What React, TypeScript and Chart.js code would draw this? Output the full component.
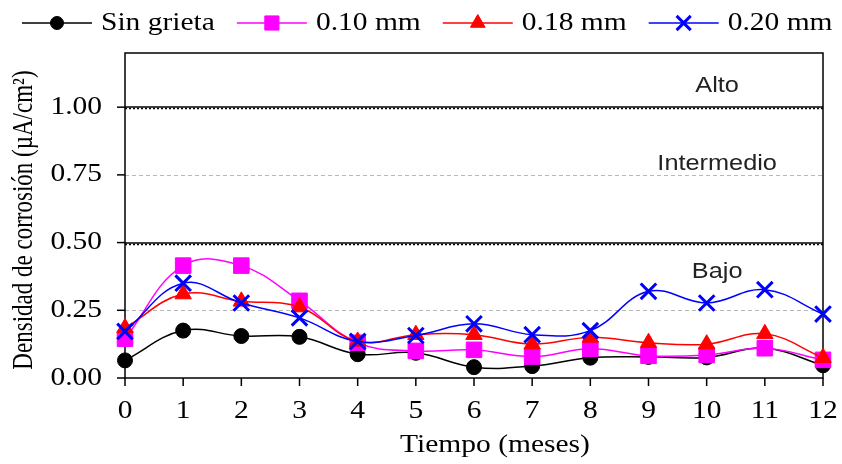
import { useEffect, useRef } from 'react';
import { Chart, registerables } from 'chart.js';
import { drawPoint } from 'chart.js/helpers';

Chart.register(...registerables);

// ---------- data ----------
const months = [0, 1, 2, 3, 4, 5, 6, 7, 8, 9, 10, 11, 12];
const sinGrieta = [0.065, 0.175, 0.155, 0.152, 0.088, 0.093, 0.040, 0.044, 0.075, 0.078, 0.076, 0.110, 0.047];
const grieta010 = [0.145, 0.415, 0.415, 0.285, 0.130, 0.100, 0.104, 0.079, 0.108, 0.082, 0.085, 0.110, 0.067];
const grieta018 = [0.185, 0.310, 0.283, 0.262, 0.135, 0.160, 0.160, 0.125, 0.150, 0.130, 0.125, 0.163, 0.075];
const grieta020 = [0.172, 0.350, 0.277, 0.222, 0.135, 0.157, 0.200, 0.160, 0.175, 0.320, 0.277, 0.326, 0.236];

const seriesNames = ['Sin grieta', '0.10 mm', '0.18 mm', '0.20 mm'];
const yTickValues = [0, 0.25, 0.5, 0.75, 1.0];
const yTickLabels = ['0.00', '0.25', '0.50', '0.75', '1.00'];
const xTickLabels = ['0', '1', '2', '3', '4', '5', '6', '7', '8', '9', '10', '11', '12'];
const zoneLabels = ['Alto', 'Intermedio', 'Bajo'];
const zoneValues = [1.08, 0.79, 0.39];
const xTitle = 'Tiempo (meses)';
const yTitle = 'Densidad de corrosión (µA/cm²)';

// ---------- styles ----------
const SERIF = '"Liberation Serif", "Times New Roman", serif';
const SANS = '"Liberation Sans", Arial, sans-serif';
const SX = 1.18;

const styles = [
  { color: '#000000', pointStyle: 'circle', radius: 7.5, pbw: 1 },
  { color: '#FF00FF', pointStyle: 'rect', radius: 11, pbw: 1 },
  { color: '#FF0000', pointStyle: 'triangle', radius: 9.5, pbw: 1 },
  { color: '#0000FF', pointStyle: 'crossRot', radius: 11, pbw: 3 },
];

function stretchedText(
  ctx: CanvasRenderingContext2D,
  text: string,
  x: number,
  y: number,
  align: 'left' | 'center' | 'right',
  font: string,
  sx: number,
  color: string
) {
  ctx.save();
  ctx.font = font;
  ctx.fillStyle = color;
  ctx.textBaseline = 'middle';
  ctx.textAlign = 'left';
  const w = ctx.measureText(text).width * sx;
  const left = align === 'center' ? x - w / 2 : align === 'right' ? x - w : x;
  ctx.translate(left, y);
  ctx.scale(sx, 1);
  ctx.fillText(text, 0, 0);
  ctx.restore();
  return w;
}

const decorPlugin = {
  id: 'decor',
  beforeDatasetsDraw(chart: any) {
    const ctx: CanvasRenderingContext2D = chart.ctx;
    const { left, right, top, bottom } = chart.chartArea;
    const ys = chart.scales.y;
    const xs = chart.scales.x;
    ctx.save();
    [0.25, 0.75].forEach((v) => {
      const y = Math.round(ys.getPixelForValue(v)) + 0.5;
      ctx.beginPath();
      ctx.setLineDash([4, 3]);
      ctx.strokeStyle = '#b8b8b8';
      ctx.lineWidth = 1;
      ctx.moveTo(left, y);
      ctx.lineTo(right, y);
      ctx.stroke();
    });
    [0.5, 1.0].forEach((v) => {
      const y = Math.round(ys.getPixelForValue(v));
      ctx.setLineDash([]);
      ctx.strokeStyle = '#000';
      ctx.lineWidth = 1.5;
      ctx.beginPath();
      ctx.moveTo(left, y);
      ctx.lineTo(right, y);
      ctx.stroke();
      ctx.setLineDash([2, 2]);
      ctx.lineWidth = 1.5;
      ctx.beginPath();
      ctx.moveTo(left, y + 1.5);
      ctx.lineTo(right, y + 1.5);
      ctx.stroke();
    });
    ctx.setLineDash([]);
    ctx.strokeStyle = '#000';
    ctx.lineWidth = 1.5;
    ctx.strokeRect(left, top, right - left, bottom - top);
    yTickValues.forEach((v) => {
      const y = ys.getPixelForValue(v);
      ctx.beginPath();
      ctx.moveTo(left - 8, y);
      ctx.lineTo(left, y);
      ctx.stroke();
    });
    months.forEach((m) => {
      const x = xs.getPixelForValue(m);
      ctx.beginPath();
      ctx.moveTo(x, bottom);
      ctx.lineTo(x, bottom + 8);
      ctx.stroke();
    });
    const zx = xs.getPixelForValue(10.18);
    zoneLabels.forEach((t, i) => {
      stretchedText(ctx, t, zx, ys.getPixelForValue(zoneValues[i]), 'center', `22px ${SANS}`, 1.15, '#222');
    });
    ctx.restore();
  },
  afterDraw(chart: any) {
    const ctx: CanvasRenderingContext2D = chart.ctx;
    const { left, bottom } = chart.chartArea;
    const ys = chart.scales.y;
    const xs = chart.scales.x;
    ctx.save();
    const tickFont = `25px ${SERIF}`;
    yTickValues.forEach((v, i) => {
      stretchedText(ctx, yTickLabels[i], left - 23, ys.getPixelForValue(v), 'right', tickFont, SX, '#000');
    });
    months.forEach((m, i) => {
      stretchedText(ctx, xTickLabels[i], xs.getPixelForValue(m), bottom + 33, 'center', tickFont, SX, '#000');
    });
    stretchedText(ctx, xTitle, 495, 445, 'center', `25px ${SERIF}`, SX, '#000');
    ctx.save();
    ctx.translate(24, 220);
    ctx.rotate(-Math.PI / 2);
    ctx.scale(1, 1.25);
    ctx.font = `23px ${SERIF}`;
    ctx.fillStyle = '#000';
    ctx.textAlign = 'center';
    ctx.textBaseline = 'middle';
    ctx.fillText(yTitle, 0, 0);
    ctx.restore();
    let lx = 22;
    const ly = 23;
    seriesNames.forEach((name, i) => {
      const st = styles[i];
      ctx.strokeStyle = st.color;
      ctx.fillStyle = st.color;
      ctx.lineWidth = 1.5;
      ctx.beginPath();
      ctx.moveTo(lx, ly);
      ctx.lineTo(lx + 70, ly);
      ctx.stroke();
      ctx.lineWidth = st.pbw;
      drawPoint(ctx, { pointStyle: st.pointStyle, radius: st.radius - 1, rotation: 0, borderWidth: st.pbw } as any, lx + 35, ly);
      const w = stretchedText(ctx, name, lx + 79, ly, 'left', `25px ${SERIF}`, SX, '#000');
      lx = lx + 79 + w + 22;
    });
    ctx.restore();
  },
};

const allSeries = [sinGrieta, grieta010, grieta018, grieta020];

export default function App() {
  const ref = useRef<HTMLCanvasElement>(null);
  useEffect(() => {
    document.body.style.margin = '0';
    const canvas = ref.current!;
    const chart = new Chart(canvas, {
      type: 'line',
      data: {
        datasets: allSeries.map((arr, i) => ({
          label: seriesNames[i],
          data: months.map((m, j) => ({ x: m, y: arr[j] })),
          borderColor: styles[i].color,
          backgroundColor: styles[i].color,
          borderWidth: 1.5,
          pointStyle: styles[i].pointStyle as any,
          pointRadius: styles[i].radius,
          pointBorderWidth: styles[i].pbw,
          pointBorderColor: styles[i].color,
          pointBackgroundColor: styles[i].color,
          tension: 0.4,
          clip: false as any,
          order: 3 - i,
        })),
      },
      options: {
        responsive: false,
        animation: false,
        devicePixelRatio: 1,
        layout: { padding: { left: 125, right: 19, top: 53, bottom: 86 } },
        plugins: { legend: { display: false }, tooltip: { enabled: false }, title: { display: false } },
        scales: {
          x: { type: 'linear', min: 0, max: 12, display: false },
          y: { type: 'linear', min: 0, max: 1.2, display: false },
        },
      },
      plugins: [decorPlugin],
    });
    return () => chart.destroy();
  }, []);
  return (
    <div style={{ position: 'absolute', left: 0, top: 0, width: 842, height: 464, background: '#fff' }}>
      <canvas ref={ref} width={842} height={464} />
    </div>
  );
}
